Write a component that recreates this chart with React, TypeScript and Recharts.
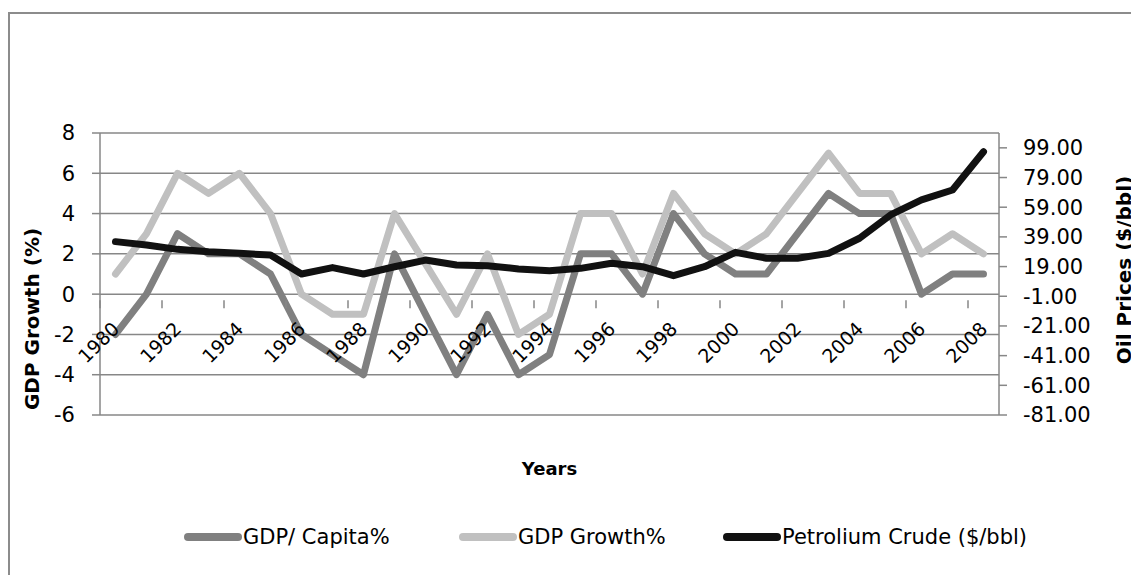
import { CartesianGrid, Legend, Line, LineChart, XAxis, YAxis } from "recharts";

const years = [
  "1980", "1981", "1982", "1983", "1984", "1985", "1986", "1987", "1988", "1989",
  "1990", "1991", "1992", "1993", "1994", "1995", "1996", "1997", "1998", "1999",
  "2000", "2001", "2002", "2003", "2004", "2005", "2006", "2007", "2008",
];
const gdpCapita = [-2, 0, 3, 2, 2, 1, -2, -3, -4, 2, -1, -4, -1, -4, -3, 2, 2, 0, 4, 2, 1, 1, 3, 5, 4, 4, 0, 1, 1];
const gdpGrowth = [1, 3, 6, 5, 6, 4, 0, -1, -1, 4, 1.5, -1, 2, -2, -1, 4, 4, 1, 5, 3, 2, 3, 5, 7, 5, 5, 2, 3, 2];
const oilPrice = [
  35.8, 33.5, 30.6, 29.0, 27.9, 26.8, 14.0, 18.3, 14.0, 18.9,
  23.4, 20.1, 19.6, 17.4, 16.2, 17.8, 21.2, 18.9, 12.9, 18.9,
  28.6, 24.6, 24.6, 27.9, 38.1, 53.8, 63.9, 70.6, 96.4,
];
const gdpTicks = [-6, -4, -2, 0, 2, 4, 6, 8];
const oilTicks = [-81, -61, -41, -21, -1, 19, 39, 59, 79, 99];

const GDP_DOMAIN: [number, number] = [-6, 8];
const OIL_DOMAIN: [number, number] = [-81, 109];

const series = [
  { key: "capita", name: "GDP/ Capita%", color: "#808080" },
  { key: "growth", name: "GDP Growth%", color: "#c0c0c0" },
  { key: "oil", name: "Petrolium Crude ($/bbl)", color: "#111111" },
];

const data = years.map((year, i) => ({
  year,
  capita: gdpCapita[i],
  growth: gdpGrowth[i],
  oil: oilPrice[i],
}));

// layout
const W = 1131;
const H = 567;
const M = { top: 125, right: 0, bottom: 130, left: 0 };
const LEFT_W = 92;
const RIGHT_W = 140;
const X_H = 30;
const PLOT_W = W - LEFT_W - RIGHT_W;
const PLOT_H = H - M.top - M.bottom - X_H;
const BAND = PLOT_W / years.length;
// the category axis crosses the value axis at 0
const ZERO_UP = ((0 - GDP_DOMAIN[0]) / (GDP_DOMAIN[1] - GDP_DOMAIN[0])) * PLOT_H;

const FONT = '"DejaVu Sans", sans-serif';
const GRID = "#878787";
const LEGEND_ITEM_W = [275, 264, 340];

const YearTick = (props: any) => {
  const { x, y, payload } = props;
  const y0 = y - ZERO_UP;
  const tx = x - BAND / 2;
  return (
    <g>
      <line x1={tx} x2={tx} y1={y0} y2={y0 + 8} stroke={GRID} strokeWidth={1.5} />
      <text
        transform={`translate(${x + 5},${y0 + 30}) rotate(-45)`}
        textAnchor="end"
        fontFamily={FONT}
        fontSize={19}
        fill="#000"
      >
        {payload.value}
      </text>
    </g>
  );
};

const LegendRow = () => (
  <div style={{ display: "flex", alignItems: "center", fontFamily: FONT, fontSize: 21, color: "#000" }}>
    {series.map((s, i) => (
      <div key={s.key} style={{ display: "flex", alignItems: "center", width: LEGEND_ITEM_W[i] }}>
        <svg width={60} height={12} style={{ flex: "none" }}>
          <line x1={5} x2={55} y1={6} y2={6} stroke={s.color} strokeWidth={8} strokeLinecap="round" />
        </svg>
        <span style={{ whiteSpace: "nowrap" }}>{s.name}</span>
      </div>
    ))}
  </div>
);

export default function App() {
  return (
    <div style={{ position: "relative", width: W, height: H, overflow: "hidden" }}>
      <style>{`body{overflow:hidden}`}</style>
      <div
        style={{
          position: "absolute",
          left: 0,
          top: 4,
          width: W + 20,
          height: H + 20,
          border: "2px solid #8c8c8c",
          boxSizing: "border-box",
        }}
      />
      <LineChart width={W} height={H} data={data} margin={M}>
        <CartesianGrid vertical={false} stroke={GRID} strokeWidth={1.5} yAxisId="gdp" />
        <XAxis
          dataKey="year"
          interval={1}
          height={X_H}
          padding={{ left: BAND / 2, right: BAND / 2 }}
          axisLine={false}
          tickLine={false}
          tickMargin={0}
          tick={<YearTick />}
          label={{
            content: ({ viewBox }: any) => (
              <text
                x={viewBox.x + viewBox.width / 2}
                y={viewBox.y + 53}
                textAnchor="middle"
                dominantBaseline="central"
                fontFamily={FONT}
                fontSize={18}
                fontWeight="bold"
                fill="#000"
              >
                Years
              </text>
            ),
          }}
        />
        <YAxis
          yAxisId="gdp"
          domain={GDP_DOMAIN}
          ticks={gdpTicks}
          interval={0}
          width={LEFT_W}
          tickSize={8}
          tickMargin={17}
          axisLine={{ stroke: GRID, strokeWidth: 1.5 }}
          tickLine={{ stroke: GRID, strokeWidth: 1.5 }}
          tick={{ fontFamily: FONT, fontSize: 21, fill: "#000" }}
          label={{
            content: () => (
              <text
                transform="translate(24,311) rotate(-90)"
                textAnchor="middle"
                dominantBaseline="central"
                fontFamily={FONT}
                fontSize={20}
                fontWeight="bold"
                fill="#000"
              >
                GDP Growth (%)
              </text>
            ),
          }}
        />
        <YAxis
          yAxisId="oil"
          orientation="right"
          domain={OIL_DOMAIN}
          ticks={oilTicks}
          interval={0}
          width={RIGHT_W}
          tickSize={8}
          tickMargin={16}
          axisLine={{ stroke: GRID, strokeWidth: 1.5 }}
          tickLine={{ stroke: GRID, strokeWidth: 1.5 }}
          tickFormatter={(v: number) => v.toFixed(2)}
          tick={{ fontFamily: FONT, fontSize: 21, fill: "#000" }}
          label={{
            content: () => (
              <text
                transform={`translate(${W - 15},262) rotate(-90)`}
                textAnchor="middle"
                dominantBaseline="central"
                fontFamily={FONT}
                fontSize={20}
                fontWeight="bold"
                fill="#000"
              >
                Oil Prices ($/bbl)
              </text>
            ),
          }}
        />
        <Legend
          layout="horizontal"
          verticalAlign="middle"
          align="center"
          wrapperStyle={{ left: 175, top: 517, width: "auto" }}
          content={() => <LegendRow />}
        />
        {series.map((s) => (
          <Line
            key={s.key}
            yAxisId={s.key === "oil" ? "oil" : "gdp"}
            type="linear"
            dataKey={s.key}
            name={s.name}
            stroke={s.color}
            strokeWidth={7}
            strokeLinejoin="round"
            strokeLinecap="round"
            dot={false}
            activeDot={false}
            isAnimationActive={false}
          />
        ))}
      </LineChart>
    </div>
  );
}
